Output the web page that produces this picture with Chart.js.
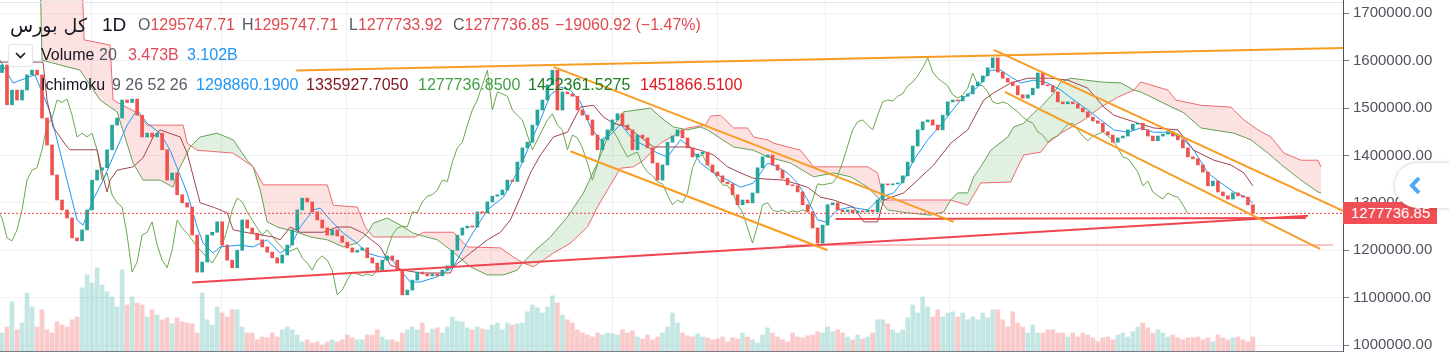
<!DOCTYPE html>
<html><head><meta charset="utf-8">
<script src="https://cdn.jsdelivr.net/npm/chart.js@4.4.0/dist/chart.umd.min.js"></script>
<style>
html,body{margin:0;padding:0;background:#fff;}
#wrap{position:relative;width:1449px;height:354px;overflow:hidden;font-family:"Liberation Sans",Arial,sans-serif;}
#c{position:absolute;left:0;top:0;}
.t{position:absolute;white-space:nowrap;font-size:16px;line-height:20px;color:#131722;}
.g{color:#555a66;}
.r{color:#e04a50;}
#topline{position:absolute;left:0;top:2px;width:1343px;height:1px;background:#e3e6ec;}
#plabel{position:absolute;left:1343px;top:202px;width:94px;height:22px;background:#ef4f55;color:#fff;font-size:15px;line-height:22px;padding-left:8px;box-sizing:border-box;}
#btn{position:absolute;left:1395px;top:163px;width:80px;height:45px;border-radius:23px;background:#fff;box-shadow:0 0 4px rgba(0,0,0,0.22);}
#vbox{position:absolute;left:8px;top:44px;width:23px;height:21px;border:1px solid #e0e3eb;border-radius:3px;background:#fff;}
</style></head><body>
<div id="wrap">
<canvas id="c" width="1449" height="354"></canvas>
<div id="topline"></div>
<div class="t" style="left:10px;top:13px;font-size:19px;line-height:24px;font-family:'DejaVu Sans',sans-serif;">کل بورس</div>
<div class="t" style="left:102px;top:14px;font-size:19px;line-height:22px;">1D</div>
<div class="t" style="left:138px;top:15px;"><span class="g">O</span><span class="r">1295747.71</span></div>
<div class="t" style="left:242px;top:15px;"><span class="g">H</span><span class="r">1295747.71</span></div>
<div class="t" style="left:349px;top:15px;"><span class="g">L</span><span class="r">1277733.92</span></div>
<div class="t" style="left:453px;top:15px;"><span class="g">C</span><span class="r">1277736.85</span></div>
<div class="t r" style="left:555px;top:15px;">−19060.92 (−1.47%)</div>
<div id="vbox"><svg width="23" height="21"><polyline points="7,8 11.5,12.5 16,8" fill="none" stroke="#131722" stroke-width="1.6"/></svg></div>
<div class="t" style="left:41px;top:45px;">Volume</div>
<div class="t g" style="left:99px;top:45px;">20</div>
<div class="t" style="left:128px;top:45px;color:#e0495a;">3.473B</div>
<div class="t" style="left:187px;top:45px;color:#2196f3;">3.102B</div>
<div class="t" style="left:41px;top:75px;">Ichimoku</div>
<div class="t g" style="left:112px;top:75px;">9 26 52 26</div>
<div class="t" style="left:196px;top:75px;color:#2196f3;">1298860.1900</div>
<div class="t" style="left:306px;top:75px;color:#801922;">1335927.7050</div>
<div class="t" style="left:418px;top:75px;color:#43a047;">1277736.8500</div>
<div class="t" style="left:528px;top:75px;color:#1b7d20;">1422361.5275</div>
<div class="t" style="left:640px;top:75px;color:#e3151a;">1451866.5100</div>
<div id="plabel">1277736.85</div>
<div id="btn"><svg width="40" height="45"><polyline points="24,15 17,22.5 24,30" fill="none" stroke="#4aa8f5" stroke-width="4" stroke-linejoin="miter"/></svg></div>
</div>
<script>
// ---- data (prices in thousands, volume in billions) ----
const K = 1000;
const closesK = [
1591,1507,1538,1517,1538,1570,1580,1570,1479,1422,
1359,1306,1285,1268,1226,1220,1243,1285,1348,1369,
1374,1412,1464,1479,1517,1512,1519,1485,1439,1447,
1439,1447,1412,1348,1363,1317,1300,1291,1232,1154,
1175,1232,1238,1260,1211,1179,1163,1200,1264,1247,
1236,1222,1207,1196,1184,1173,1190,1211,1243,1285,
1310,1302,1281,1264,1247,1232,1243,1230,1217,1205,
1196,1200,1205,1184,1173,1158,1179,1188,1179,1158,
1106,1116,1137,1154,1150,1146,1150,1146,1158,1167,
1200,1232,1247,1251,1249,1281,1279,1302,1314,1317,
1327,1348,1345,1386,1416,1428,1464,1496,1517,1549,
1580,1496,1534,1530,1525,1496,1485,1475,1443,1412,
1433,1454,1475,1488,1464,1454,1412,1443,1437,1416,
1384,1348,1380,1428,1441,1454,1437,1416,1397,1403,
1407,1380,1365,1357,1344,1340,1317,1296,1306,1300,
1321,1374,1397,1401,1380,1369,1352,1338,1336,1323,
1296,1281,1247,1215,1253,1296,1300,1285,1281,1285,
1279,1283,1281,1285,1281,1306,1340,1338,1340,1342,
1357,1386,1420,1454,1471,1475,1464,1454,1485,1513,
1517,1515,1525,1530,1547,1555,1568,1585,1606,1576,
1563,1555,1547,1528,1521,1528,1542,1574,1549,1547,
1534,1513,1509,1513,1509,1500,1492,1481,1473,1468,
1450,1443,1428,1437,1441,1454,1466,1468,1454,1441,
1431,1441,1445,1450,1441,1433,1416,1397,1393,1380,
1365,1336,1346,1323,1315,1308,1321,1315,1312,1295.74771,
1277.73685
];
const firstOpenK = 1575;
const volumesB = [
4.5,6,12.3,5.3,7,14.5,11,6,10.3,5.3,
4.5,7.3,6.5,6,7.8,8.5,15.8,19,17,20.8,
16.5,14.8,13.5,11,20.3,11.5,13.5,12,11.5,8.5,
10.3,9,7.8,8.3,6.8,8.3,7.3,7,6.8,4.5,
14.5,7.8,6.5,11,9.5,8.5,10.3,10.3,6,4.5,
4.5,2.8,3.5,3.3,4.5,3.5,5.3,6,5.3,4,
2.3,2.8,2,2.3,1.5,2.3,2.8,2.3,2.8,4,
3.3,2.8,2.8,4,4,5.3,3.5,2.8,2.8,2.3,
4.5,5.3,6,5.3,7,4.5,5.5,5.8,4.5,6,
8.5,7.5,7.3,5.8,5.3,6,5.5,5.3,6.5,7,
5.3,7,6.5,6.8,7,9.8,11.5,10.8,9.5,11,
13.8,12,9,7.8,7,5.3,4.5,4,3.5,4.5,
4,4.5,4.3,4,5.3,4.5,5,3.5,3,4,
2.8,3.5,4.5,6,9.5,7,4.5,3.8,3.5,4.3,
3.5,3.3,2.8,3,3.5,2.3,3.3,3,4.5,3.5,
2.8,2,4,5.8,4.5,3.5,2.8,2.3,4.5,3.5,
3.3,3.8,4,4.8,4.5,6,4.8,5.3,4.5,3.5,
2.8,4,3,3.5,4.5,7.8,7.8,6.8,5.3,4.5,
5.3,8.3,11.5,9.5,13.5,11,8.5,10.3,8.5,9.5,
9.8,8.5,9.5,7.8,8.5,7.8,9.5,8.3,10.3,10.3,
7.8,6,9.8,7,6,4.5,6.5,4.5,4.5,5.3,
5.3,4.5,4.5,3.5,4.5,3.5,4.5,4,3.3,2.3,
3.3,3.5,2.8,4,4.5,3.5,4.8,6,7,5.8,
4.5,5.3,4.5,3.5,4,3.3,2.8,3.3,3.3,3.5,
2.8,3.3,2.3,4,3.3,2.8,3.3,3.5,2.8,2.3,
3.473
];
const priceTicks = [1000000,1100000,1200000,1300000,1400000,1500000,1600000,1700000];
const monthStarts = [2.2,33.6,54,83.6,112,132,154,175,203.6,234.2];
const lastPrice = 1277736.85;
const lagBars = 13;

// Ichimoku lines: [bar position, value in thousands]
const tenkanK = [[-0.4,1601],[2.2,1553],[6.6,1570],[9.6,1492],[13,1348],[15,1264],[16.2,1253],[18.2,1306],[20.2,1348],[22.2,1397],[25,1464],[27,1496],[29,1468],[31.6,1447],[33.6,1411],[37,1321],[39,1249],[40.2,1215],[42.2,1194],[43.6,1207],[47.6,1211],[50.2,1207],[53,1222],[55.6,1194],[57.6,1207],[59.6,1249],[62.2,1285],[63.6,1289],[65.6,1264],[68.2,1236],[71,1215],[73,1194],[75.6,1186],[77.6,1184],[79.6,1158],[81.6,1133],[83.6,1133],[87,1144],[90.2,1165],[93.6,1228],[97,1285],[100.2,1312],[103.6,1376],[105.6,1426],[107.6,1475],[109.6,1528],[111.6,1544],[113.6,1538],[115.6,1513],[117.6,1460],[119.6,1433],[121.6,1443],[123.6,1466],[126.2,1433],[129,1418],[131,1405],[133,1397],[135.6,1433],[137.6,1418],[139.6,1384],[142.2,1363],[145,1348],[147.6,1333],[150.2,1342],[153,1384],[155,1376],[157,1363],[159,1342],[161,1306],[163,1264],[164.6,1260],[167,1285],[169.6,1291],[173,1285],[175.6,1312],[178.2,1321],[180.2,1348],[182.2,1390],[185,1433],[187.6,1464],[191.6,1517],[195,1544],[197.6,1580],[199.6,1580],[201.6,1566],[203.6,1553],[206.2,1559],[209,1553],[211.6,1538],[214.2,1517],[217,1496],[219.6,1475],[222.2,1454],[225,1449],[227.6,1458],[230.2,1449],[233,1449],[235.6,1439],[238.2,1411],[241,1363],[243.6,1342],[246.2,1323],[249,1310],[250,1298.86]];
const kijunK = [[-0.4,1597],[8.2,1597],[9,1517],[10.2,1460],[13,1418],[13.6,1412],[19,1412],[20.2,1355],[21,1323],[21.6,1348],[23,1369],[26.2,1376],[28.2,1395],[30.2,1439],[31.6,1454],[35.6,1439],[37,1405],[39.6,1300],[42.2,1291],[45,1279],[46.2,1243],[49.6,1236],[54.2,1228],[55.6,1222],[57.6,1249],[59.6,1238],[64.2,1238],[67,1249],[69.6,1249],[72.2,1236],[75.6,1207],[77.6,1169],[80.2,1158],[83.6,1152],[89.6,1152],[90.2,1165],[93.6,1194],[97,1222],[99.6,1238],[101.6,1264],[103.6,1312],[105.6,1363],[107.6,1401],[110.2,1439],[113,1449],[115.6,1502],[118.2,1506],[120.2,1481],[122.2,1468],[125,1460],[127.6,1439],[130.2,1418],[137,1418],[139.6,1411],[142.2,1401],[145,1376],[147.6,1363],[150.2,1352],[156.2,1348],[158.2,1342],[161,1333],[163.6,1312],[166.2,1306],[170.2,1291],[172.2,1260],[175,1260],[176.2,1306],[180.2,1321],[183,1348],[186.2,1380],[189.6,1426],[193,1454],[196.2,1517],[198.2,1532],[201.6,1553],[205,1563],[209.6,1563],[213,1559],[217,1542],[220.2,1502],[222.2,1485],[226.2,1471],[230.2,1458],[235,1454],[238.2,1411],[242.2,1390],[245.6,1380],[248.2,1363],[250,1335.93]];
const spanAK = [[-0.4,1791],[7.6,1791],[8,1601],[15.6,1580],[19.6,1517],[23,1492],[26.2,1384],[28.2,1348],[31.6,1348],[34.2,1333],[35,1363],[37.6,1418],[39.6,1439],[43,1447],[46.2,1433],[49,1390],[50.2,1376],[51.6,1327],[53,1260],[55,1249],[59,1238],[61.6,1228],[65,1222],[68.2,1207],[71,1215],[73,1236],[74.2,1257],[77,1268],[79.6,1253],[82.2,1236],[84.2,1230],[87,1222],[90.2,1196],[93.6,1165],[97,1148],[100.2,1148],[103,1158],[104.2,1175],[106.6,1200],[109.6,1228],[113,1270],[116.2,1321],[119,1384],[121.6,1454],[124.2,1492],[129.6,1500],[131.6,1481],[134.2,1460],[137,1454],[139.6,1460],[141,1454],[146.2,1418],[150.2,1411],[153,1397],[157.6,1384],[162.2,1355],[166.2,1363],[169.6,1355],[173,1333],[175,1312],[177,1285],[181,1279],[185.6,1274],[188.2,1281],[189.6,1306],[191,1321],[193,1321],[194.2,1355],[195.6,1376],[197.6,1411],[201,1439],[202.2,1460],[204.2,1468],[206.2,1490],[207.6,1502],[210.2,1532],[211.6,1555],[213.6,1563],[219.6,1555],[223.6,1553],[226.2,1538],[227.6,1534],[233,1506],[236.2,1490],[239.6,1458],[246.2,1447],[249.6,1433],[253,1405],[256.2,1376],[259.6,1348],[263,1323],[263.6,1321]];
const spanBK = [[-0.4,1770],[16,1770],[16.4,1644],[21.6,1633],[22.2,1517],[27,1490],[29,1464],[36.2,1464],[37,1426],[39,1411],[46.2,1405],[50.2,1376],[52.2,1338],[65,1338],[66.2,1295],[71,1291],[72.6,1249],[74.2,1228],[82.6,1228],[84.2,1238],[90.2,1238],[93,1207],[99.6,1205],[102.2,1186],[104.2,1173],[106.2,1165],[110.2,1194],[113.6,1215],[117,1249],[119,1291],[121.6,1338],[123.6,1373],[126.2,1376],[128.2,1390],[131.6,1426],[137,1458],[140.6,1464],[141.6,1483],[143.6,1485],[146.2,1458],[149,1458],[150.2,1439],[153,1433],[154.2,1426],[159.6,1411],[162.2,1376],[173,1376],[175,1363],[176.2,1306],[189.6,1306],[193,1295],[195.6,1342],[201.6,1344],[203,1376],[204.2,1401],[207.6,1407],[209,1426],[211.6,1447],[216.2,1475],[219.6,1502],[223,1523],[226.2,1538],[227.6,1555],[233,1538],[234.6,1517],[239.6,1506],[245.6,1502],[248.2,1475],[251,1454],[253.6,1439],[256.2,1405],[259.6,1390],[263,1390],[263.6,1376]];

// drawn trend lines: [bar position, value in thousands]
const orangeTopK  = [[58.8,1579.3],[268.2,1626.8]];
const orangeCh1UpK = [[110.2,1587],[190.2,1260]];
const orangeCh1LoK = [[113.6,1409],[165,1200]];
const orangeCh2UpK = [[198.2,1623],[268,1283]];
const orangeCh2LoK = [[200.4,1534],[263.4,1203]];
const redRisingK = [[38,1132],[261,1273]];
const redFlatK   = [[166.6,1266],[260.6,1268]];
const redLowK    = [[156.6,1211],[266,1211]];

// ---- build ----
const closes = closesK.map(v => v * K);
const opens = closes.map((c, i) => i === 0 ? firstOpenK * K : closes[i - 1]);
const rising = closes.map((c, i) => c >= opens[i]);
const pts = arr => arr.map(([x, v]) => ({x: x, y: v * K}));

function lineDs(data, color, width, order, extra) {
  return Object.assign({type: 'line', data: data, borderColor: color, borderWidth: width,
    pointRadius: 0, pointHoverRadius: 0, tension: 0, fill: false, order: order,
    yAxisID: 'y', xAxisID: 'x'}, extra || {});
}

const datasets = [];
datasets.push({type: 'bar', data: volumesB.map((v, i) => ({x: i, y: v})),
  backgroundColor: rising.map(r => r ? 'rgba(38,166,154,0.27)' : 'rgba(239,83,80,0.30)'),
  barThickness: 4, grouped: false, borderWidth: 0, yAxisID: 'yv', xAxisID: 'x', order: 9});
const spanBIndex = datasets.length;
datasets.push(lineDs(pts(spanBK), '#ec6a6e', 1, 7));
datasets.push(lineDs(pts(spanAK), '#62a152', 1, 7,
  {fill: {target: spanBIndex, above: 'rgba(76,168,80,0.17)', below: 'rgba(242,72,72,0.16)'}}));
datasets.push(lineDs(closes.map((c, i) => ({x: i - lagBars, y: c})), '#6aa84f', 1, 6));
datasets.push(lineDs(pts(kijunK), '#a0434d', 1, 5));
datasets.push(lineDs(pts(tenkanK), '#2196f3', 1, 5));
datasets.push({type: 'bar', data: closes.map((c, i) => ({x: i, y: [opens[i], c]})),
  backgroundColor: rising.map(r => r ? '#26a69a' : '#ef5350'),
  barThickness: 3, minBarLength: 1, grouped: false, borderWidth: 0, yAxisID: 'y', xAxisID: 'x', order: 3});
datasets.push(lineDs([{x: -0.4, y: lastPrice}, {x: 268, y: lastPrice}], '#f06060', 1.2, 2, {borderDash: [2, 2]}));
[orangeTopK, orangeCh1UpK, orangeCh1LoK, orangeCh2UpK, orangeCh2LoK].forEach(l =>
  datasets.push(lineDs(pts(l), '#f89d22', 2, 1)));
datasets.push(lineDs(pts(redRisingK), '#f0454f', 2, 1));
datasets.push(lineDs(pts(redFlatK), '#f0454f', 2, 1));
datasets.push(lineDs(pts(redLowK), '#f4878c', 1, 1));

new Chart(document.getElementById('c'), {
  type: 'bar',
  data: {datasets: datasets},
  options: {
    responsive: false, devicePixelRatio: 1, animation: false, events: [],
    layout: {padding: 0, autoPadding: false},
    plugins: {legend: {display: false}, tooltip: {enabled: false}},
    scales: {
      x: {type: 'linear', min: -0.4, max: 268, offset: false,
        afterBuildTicks: s => { s.ticks = monthStarts.map(v => ({value: v})); },
        afterFit: s => { s.height = 3; s.paddingLeft = 0; s.paddingRight = 0; },
        ticks: {display: false},
        grid: {color: '#eef0f4', drawTicks: false},
        border: {display: true, color: '#787b86'}},
      y: {type: 'linear', position: 'right', min: 987400, max: 1728065,
        afterBuildTicks: s => { s.ticks = priceTicks.map(v => ({value: v})); },
        afterFit: s => { s.width = 106; s.paddingTop = 0; s.paddingBottom = 0; },
        ticks: {color: '#50535e', font: {family: 'Liberation Sans', size: 15}, padding: 4,
          callback: v => v.toFixed(2)},
        grid: {color: '#eff1f5', tickColor: '#787b86', tickLength: 6},
        border: {display: true, color: '#50535e'}},
      yv: {type: 'linear', display: false, min: 0, max: 87.75}
    }
  }
});
</script>
</body></html>
